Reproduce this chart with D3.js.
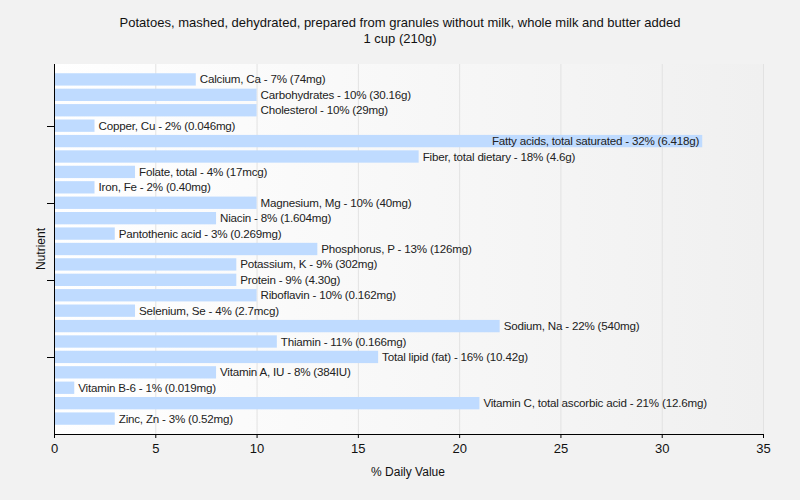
<!DOCTYPE html>
<html><head><meta charset="utf-8">
<script src="https://cdnjs.cloudflare.com/ajax/libs/d3/7.8.5/d3.min.js"></script>
<style>body{margin:0;background:#f2f2f2;}svg{display:block;font-family:"Liberation Sans",Arial,sans-serif;}</style>
</head><body><svg id="c" width="800" height="500"></svg>
<script>
const nutrients = ["Calcium, Ca","Carbohydrates","Cholesterol","Copper, Cu","Fatty acids, total saturated","Fiber, total dietary","Folate, total","Iron, Fe","Magnesium, Mg","Niacin","Pantothenic acid","Phosphorus, P","Potassium, K","Protein","Riboflavin","Selenium, Se","Sodium, Na","Thiamin","Total lipid (fat)","Vitamin A, IU","Vitamin B-6","Vitamin C, total ascorbic acid","Zinc, Zn"];
const dailyValues = [7,10,10,2,32,18,4,2,10,8,3,13,9,9,10,4,22,11,16,8,1,21,3];
const amounts = ["74mg","30.16g","29mg","0.046mg","6.418g","4.6g","17mcg","0.40mg","40mg","1.604mg","0.269mg","126mg","302mg","4.30g","0.162mg","2.7mcg","540mg","0.166mg","10.42g","384IU","0.019mg","12.6mg","0.52mg"];
const xTicks = [0,5,10,15,20,25,30,35];
const titleLines = ["Potatoes, mashed, dehydrated, prepared from granules without milk, whole milk and butter added","1 cup (210g)"];

const svg = d3.select("#c");
const L=54, R=763, T=64, B=434;
const x = d3.scaleLinear().domain([0,35]).range([L,R]);
const y = d3.scaleBand().domain(nutrients).range([T,B]).paddingInner(0.2).paddingOuter(0.6);

const defs = svg.append("defs");
const g = defs.append("linearGradient").attr("id","bg").attr("x1","0").attr("x2","1").attr("y1","0").attr("y2","0");
g.append("stop").attr("offset","0").attr("stop-color","#ffffff");
g.append("stop").attr("offset","1").attr("stop-color","#f0f0f0");
svg.append("rect").attr("x",L).attr("y",T).attr("width",R-L).attr("height",B-T).attr("fill","url(#bg)");

// grid
svg.selectAll("line.grid").data(xTicks.slice(1)).join("line")
  .attr("x1",d=>x(d)+0.5).attr("x2",d=>x(d)+0.5).attr("y1",T).attr("y2",B)
  .attr("stroke","#e2e2e2").attr("stroke-width",1);

// bars
svg.selectAll("rect.bar").data(nutrients).join("rect")
  .attr("x",x(0)+1).attr("y",d=>y(d)).attr("width",(d,i)=>x(dailyValues[i])-x(0)-1)
  .attr("height",y.bandwidth()).attr("fill","#bfdbff");

// labels
svg.selectAll("text.lbl").data(nutrients).join("text")
  .attr("font-size",11.6).attr("letter-spacing","-0.2px").attr("fill","#222")
  .text((d,i)=>`${d} - ${dailyValues[i]}% (${amounts[i]})`)
  .each(function(d,i){
    const t=d3.select(this);
    const w=this.getComputedTextLength();
    const xe=x(dailyValues[i]);
    t.attr("y",y(d)+y.bandwidth()/2).attr("dy","0.35em");
    if(xe+4+w>R){t.attr("x",xe-3).attr("text-anchor","end");}
    else{t.attr("x",xe+4).attr("text-anchor","start");}
  });

// x axis
const xa = svg.append("g").attr("transform",`translate(0,${B})`)
  .call(d3.axisBottom(x).tickValues(xTicks).tickSize(4).tickSizeOuter(0));
xa.select(".domain").attr("stroke","#000");
xa.selectAll("text").attr("font-size",13).attr("fill","#111").attr("font-family","Liberation Sans, Arial, sans-serif").attr("dy","0.9em");

// y axis
svg.append("line").attr("x1",L+0.5).attr("x2",L+0.5).attr("y1",T).attr("y2",B).attr("stroke","#000");
const yTickIdx=[3,8,13,18];
svg.selectAll("line.yt").data(yTickIdx).join("line")
  .attr("x1",L-7).attr("x2",L)
  .attr("y1",d=>Math.round(y(nutrients[d])+y.bandwidth()/2)+0.5)
  .attr("y2",d=>Math.round(y(nutrients[d])+y.bandwidth()/2)+0.5)
  .attr("stroke","#000");

// titles
svg.selectAll("text.title").data(titleLines).join("text")
  .attr("x",400).attr("y",(d,i)=>27+i*16).attr("text-anchor","middle")
  .attr("font-size",13).attr("fill","#111").text(d=>d);

svg.append("text").attr("x",408).attr("y",476).attr("text-anchor","middle").attr("font-size",12).attr("fill","#111").text("% Daily Value");
svg.append("text").attr("transform","translate(45,249) rotate(-90)").attr("text-anchor","middle").attr("font-size",12).attr("fill","#111").text("Nutrient");
</script></body></html>
